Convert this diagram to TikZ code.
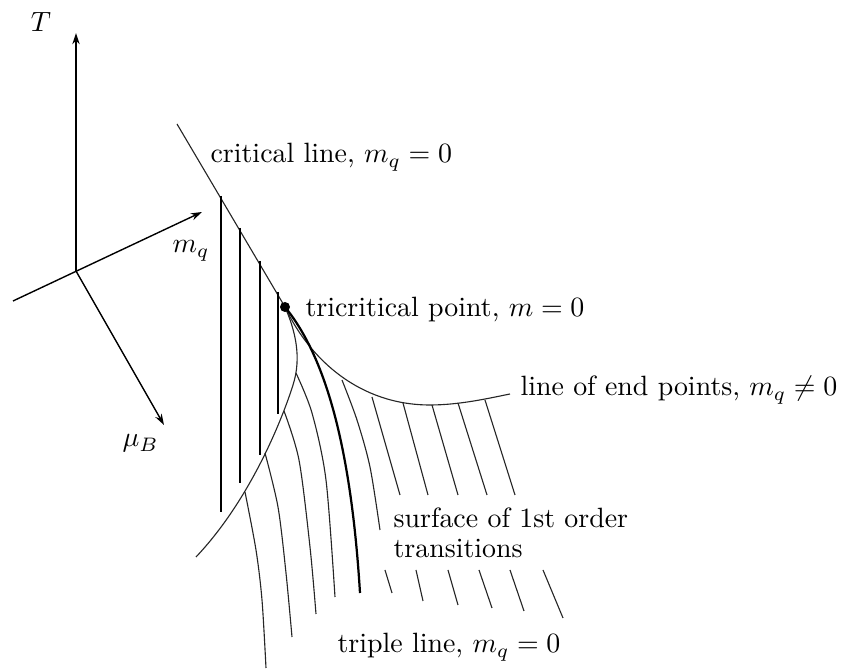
\documentclass[tikz,border=0pt]{standalone}
\usetikzlibrary{arrows.meta}
\begin{document}
\begin{tikzpicture}[x=0.3584pt,y=-0.3584pt,
  thinline/.style={line width=0.4pt, black!85},
  axisline/.style={line width=0.5pt, -{Stealth[length=4pt,width=2.6pt]}},
  hatchline/.style={line width=0.75pt},
  thickcurve/.style={line width=0.8pt},
  lbl/.style={inner sep=0pt, anchor=base west}]
\useasboundingbox (0,0) rectangle (841,669);
% axes
\coordinate (O) at (76,271);
\coordinate (Ttip) at (76,33);
\coordinate (mqL) at (13,301);
\coordinate (mqtip) at (202,212);
\coordinate (mutip) at (164,425);
\draw[axisline, line width=0.6pt] (O) -- (Ttip);
\draw[axisline] (mqL) -- (mqtip);
\draw[axisline] (O) -- (mutip);
\node[inner sep=0pt] (Tlab) at (41,22) {$T$};
\node[lbl] (mqlab) at (172,253) {$m_q$};
\node[lbl] (mulab) at (122,447) {$\mu_B$};
% critical line
\coordinate (TC) at (285,307);
\coordinate (Cstart) at (177,124);
\draw[thinline] (Cstart) -- (TC);
% vertical hatch lines below critical line
\draw[hatchline] (221,196) -- (221,512);
\draw[hatchline] (240,228) -- (240,483);
\draw[hatchline] (260,261) -- (260,455);
\draw[hatchline] (278,292) -- (278,414);
% left boundary curve
\coordinate (LB) at (196,557);
\draw[thinline] (TC) .. controls (295,330) and (302,357) .. (293,385)
                     .. controls (282,420) and (250,500) .. (LB);
% line of end points
\coordinate (EP) at (510,394);
\draw[thinline] (TC) .. controls (310,360) and (360,405) .. (430,405)
                     .. controls (460,405) and (490,398) .. (EP);
% thick curve
\coordinate (TK) at (360,593);
\draw[thickcurve] (TC) .. controls (320,350) and (350,430) .. (TK);
% thin lines from left curve
\draw[thinline] plot[smooth] coordinates {(245,492) (256,550) (262,600) (266,668)};
\draw[thinline] plot[smooth] coordinates {(265,453) (278,507) (286,573) (292,637)};
\draw[thinline] plot[smooth] coordinates {(284,411) (299,460) (310,547) (316,614)};
\draw[thinline] plot[smooth] coordinates {(296,373) (312,413) (326,480) (335,597)};
% lines from line of end points
\draw[thinline] plot[smooth] coordinates {(342,380) (357,420) (370,467) (380,530)};
\draw[thinline] (372,397) -- (400,495);
\draw[thinline] (403,403) -- (428,495);
\draw[thinline] (432,405) -- (458,495);
\draw[thinline] (458,403) -- (487,495);
\draw[thinline] (485,400) -- (515,495);
% lower segments
\draw[thinline] (385,570) -- (392,593);
\draw[thinline] (416,570) -- (423,601);
\draw[thinline] (448,570) -- (458,605);
\draw[thinline] (479,570) -- (492,608);
\draw[thinline] (510,570) -- (524,611);
\draw[thinline] (543,570) -- (563,618);
% tricritical point
\fill (TC) circle (5);
% labels
\node[lbl] (crit) at (210,163) {critical line, $m_q=0$};
\node[lbl] (tric) at (305,317) {tricritical point, $m=0$};
\node[lbl] (endp) at (520,396) {line of end points, $m_q\neq0$};
\node[lbl] (surf) at (393,528) {surface of 1st order};
\node[lbl] (trans) at (393,558) {transitions};
\node[lbl] (trip) at (337,653) {triple line, $m_q=0$};
\end{tikzpicture}
\end{document}
